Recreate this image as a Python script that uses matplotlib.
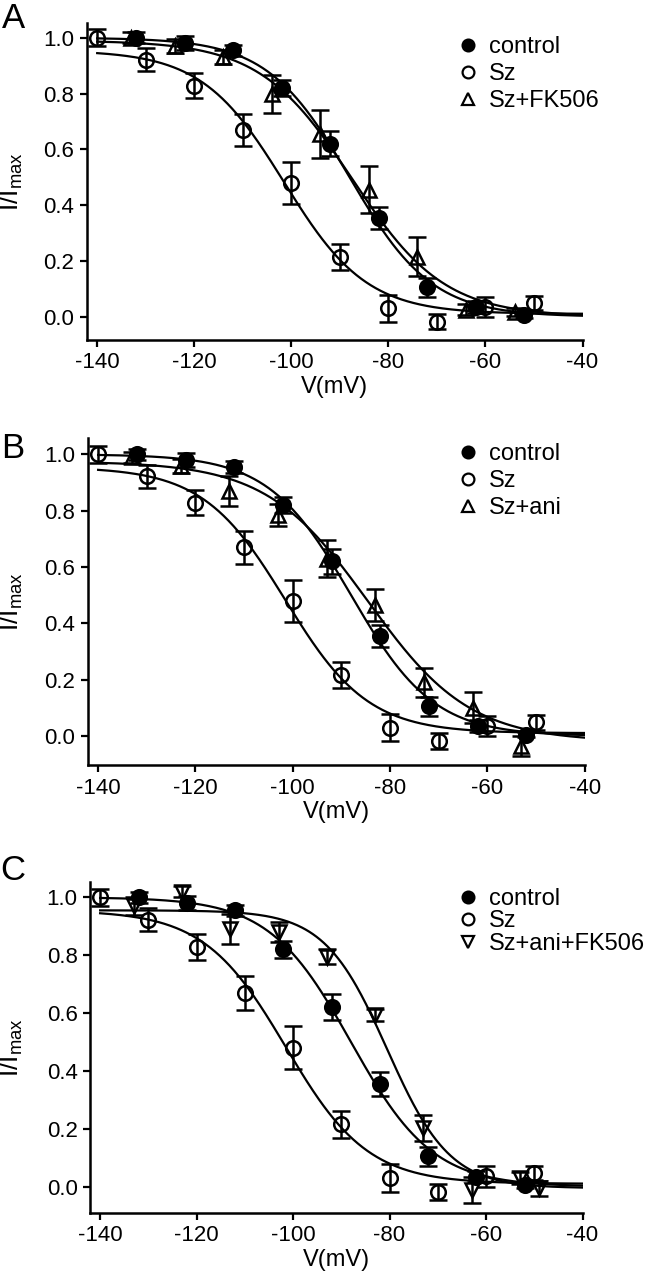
import numpy as np
import matplotlib
matplotlib.use('Agg')
from matplotlib import pyplot as plt
from matplotlib.lines import Line2D

plt.rcParams['font.family'] = ['Liberation Sans', 'DejaVu Sans']
plt.rcParams['mathtext.fontset'] = 'custom'
plt.rcParams['mathtext.rm'] = 'Liberation Sans'
plt.rcParams['mathtext.it'] = 'Liberation Sans:italic'
plt.rcParams['axes.unicode_minus'] = False

# measured points (mV, I/Imax, sem)
V_ctrl = [-132, -122, -112, -102, -92, -82, -72, -62, -52]
I_ctrl = [1.00, 0.98, 0.955, 0.82, 0.62, 0.355, 0.105, 0.035, 0.005]
E_ctrl = [0.02, 0.025, 0.02, 0.03, 0.045, 0.04, 0.033, 0.02, 0.01]

V_sz = [-140, -130, -120, -110, -100, -90, -80, -70, -60, -50]
I_sz = [1.0, 0.922, 0.828, 0.67, 0.48, 0.215, 0.03, -0.018, 0.036, 0.048]
E_sz = [0.03, 0.04, 0.045, 0.058, 0.075, 0.046, 0.048, 0.027, 0.036, 0.025]

V_fk = [-133, -124, -114, -104, -94, -84, -74, -64, -54]
I_fk = [1.0, 0.97, 0.93, 0.80, 0.655, 0.455, 0.215, 0.025, 0.018]
E_fk = [0.02, 0.025, 0.025, 0.068, 0.085, 0.085, 0.07, 0.02, 0.015]

V_ani = [-133, -123, -113, -103, -93, -83, -73, -63, -53]
I_ani = [0.99, 0.96, 0.87, 0.785, 0.63, 0.465, 0.19, 0.10, -0.035]
E_ani = [0.02, 0.025, 0.052, 0.04, 0.065, 0.058, 0.053, 0.055, 0.035]

V_aff = [-133, -123, -113, -103, -93, -83, -73, -63, -53, -49]
I_aff = [0.97, 1.02, 0.89, 0.88, 0.795, 0.593, 0.202, -0.011, 0.029, -0.006]
E_aff = [0.03, 0.02, 0.052, 0.035, 0.025, 0.02, 0.045, 0.045, 0.02, 0.025]

# Boltzmann fit parameters: top, bottom, V1/2, slope
fit_ctrl = [1.0, 0.0, -88.0, 8.5]
fit_sz = [0.955, 0.01, -101.5, 8.5]
fit_fk = [0.99, 0.0, -87.5, 9.5]
fit_ani = [0.975, -0.02, -84.5, 10.5]
fit_aff = [0.955, -0.005, -80.5, 6.5]

W, H = 650, 1280


def boltz(v, p):
    top, bot, vh, k = p
    return bot + (top - bot) / (1 + np.exp((v - vh) / k))


panels = [
    ('A', (87, 582.5, 22.7, 340), (-0.0835, 1.054), V_fk, I_fk, E_fk, fit_fk, '^', 'Sz+FK506', 36, 0.22, 18),
    ('B', (87.9, 584.6, 438, 765), (-0.103, 1.058), V_ani, I_ani, E_ani, fit_ani, '^', 'Sz+ani', 443, 0.22, 449),
    ('C', (90, 582.5, 881.7, 1212.7), (-0.09, 1.054), V_aff, I_aff, E_aff, fit_aff, 'v', 'Sz+ani+FK506', 888, 0.02, 870),
]

fig = plt.figure(figsize=(6.5, 12.8), dpi=100)
vv = np.linspace(-140, -40, 400)

for letter, (x0, x1, y0, y1), ylim, V3, I3, E3, fit3, m3, lab3, legtop, lsp, lety in panels:
    ax = fig.add_axes([x0 / W, 1 - y1 / H, (x1 - x0) / W, (y1 - y0) / H])
    for p in (fit_ctrl, fit_sz, fit3):
        ax.plot(vv, boltz(vv, p), color='k', lw=1.6)
    eb = dict(ecolor='k', elinewidth=1.8, capsize=6.5, capthick=1.8, ms=10.5, mew=1.8, mec='k', ls='none')
    ax.errorbar(V_ctrl, I_ctrl, yerr=E_ctrl, marker='o', mfc='k', **eb)
    ax.errorbar(V_sz, I_sz, yerr=E_sz, marker='o', mfc='none', **eb)
    ax.errorbar(V3, I3, yerr=E3, marker=m3, mfc='none', **eb)

    ax.set_xlim(-142.1, -40)
    ax.set_ylim(*ylim)
    ax.set_xticks(np.arange(-140, -39, 20))
    ax.set_yticks(np.arange(0, 1.01, 0.2))
    ax.set_yticklabels(['%.1f' % t for t in np.arange(0, 1.01, 0.2)])
    for s in ('top', 'right'):
        ax.spines[s].set_visible(False)
    for s in ('left', 'bottom'):
        ax.spines[s].set_linewidth(1.8)
    ax.tick_params(direction='out', length=5, width=1.6, labelsize=16, pad=4)

    ax.set_xlabel('V(mV)', fontsize=17)
    ax.xaxis.set_label_coords(0.5, -36 / (y1 - y0))
    ax.xaxis.label.set_va('top')
    ax.set_ylabel(r'I/I$_{\mathregular{max}}$', fontsize=19)
    ax.yaxis.set_label_coords((25 - x0) / (x1 - x0), 0.5)

    handles = [
        Line2D([], [], ls='none', marker='o', mfc='k', mec='k', ms=8.5, mew=1.6),
        Line2D([], [], ls='none', marker='o', mfc='none', mec='k', ms=8.5, mew=1.6),
        Line2D([], [], ls='none', marker=m3, mfc='none', mec='k', ms=8.5, mew=1.6),
    ]
    fig.legend(handles, ['control', 'Sz', lab3], loc='upper left',
               bbox_to_anchor=(458.6 / W, 1 - legtop / H), frameon=False,
               fontsize=17, handlelength=0.8, handletextpad=0.5,
               labelspacing=lsp, borderpad=0, borderaxespad=0)

    fig.text(13 / W, 1 - lety / H, letter, fontsize=25, ha='center', va='center')

fig.savefig('out.png', dpi=100)
